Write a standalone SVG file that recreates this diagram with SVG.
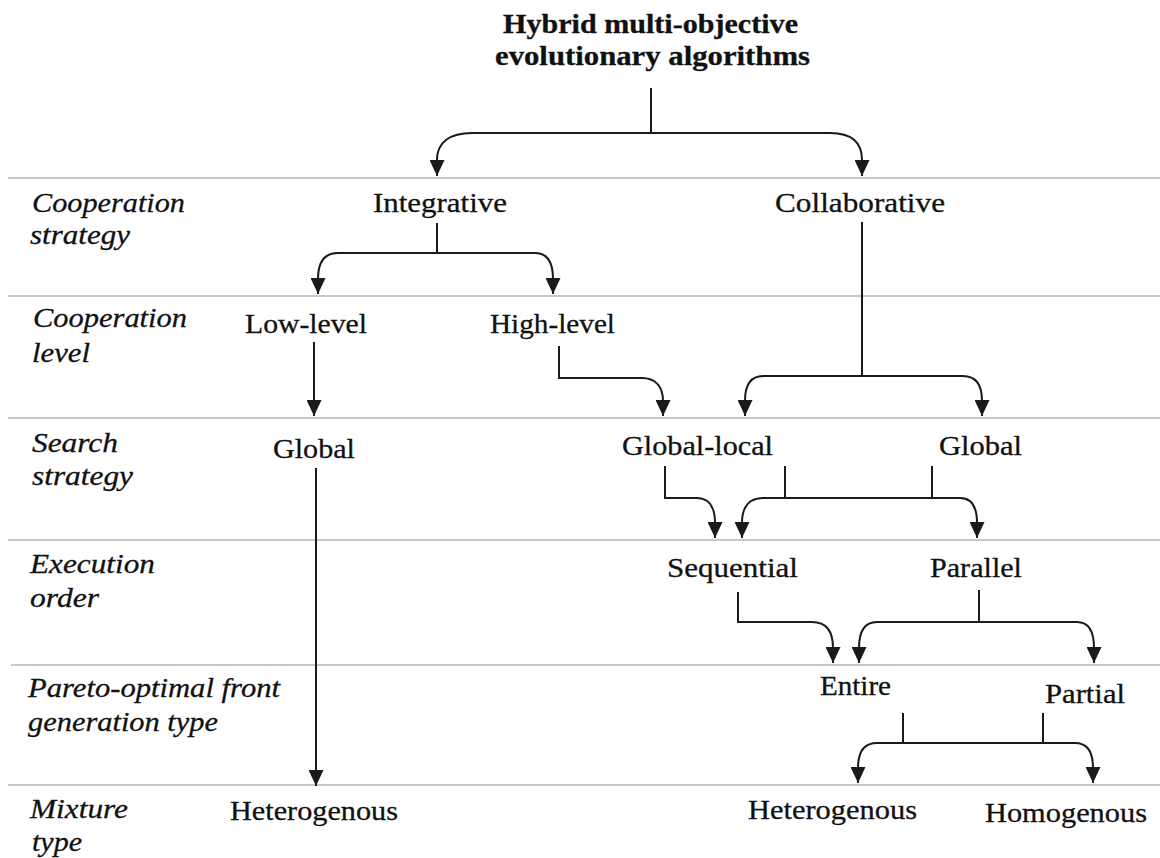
<svg xmlns="http://www.w3.org/2000/svg" width="1160" height="858" viewBox="0 0 1160 858">
<style>
.bg{fill:#ffffff}
.rule{stroke:#c8c8c8;stroke-width:2;fill:none}
.t{font-family:"Liberation Serif","DejaVu Serif",serif;font-size:28px;fill:#111;stroke:#111;stroke-width:0.3}
.title{font-weight:bold}
.lab{font-style:italic}
.c{stroke:#1a1a1a;stroke-width:2;fill:none;marker-end:url(#ah)}
.p{stroke:#1a1a1a;stroke-width:2;fill:none}
</style>
<defs>
<marker id="ah" markerUnits="userSpaceOnUse" markerWidth="16" markerHeight="15" viewBox="0 0 16 15" refX="16" refY="7.5" orient="auto">
<path d="M0,0 L16,7.5 L0,15 z" fill="#1a1a1a"/>
</marker>
</defs>
<rect class="bg" x="0" y="0" width="1160" height="858"/>
<g id="rules">
<line class="rule" x1="8" y1="178" x2="1160" y2="178"/>
<line class="rule" x1="8" y1="296" x2="1160" y2="296"/>
<line class="rule" x1="8" y1="418" x2="1160" y2="418"/>
<line class="rule" x1="8" y1="540" x2="1160" y2="540"/>
<line class="rule" x1="11" y1="665" x2="1160" y2="665"/>
<line class="rule" x1="8" y1="785" x2="1160" y2="785"/>
</g>
<g id="row-labels">
<text class="t lab" x="32" y="212" textLength="153" lengthAdjust="spacingAndGlyphs">Cooperation</text>
<text class="t lab" x="30" y="244" textLength="100" lengthAdjust="spacingAndGlyphs">strategy</text>
<text class="t lab" x="33" y="327" textLength="154" lengthAdjust="spacingAndGlyphs">Cooperation</text>
<text class="t lab" x="32" y="362" textLength="58" lengthAdjust="spacingAndGlyphs">level</text>
<text class="t lab" x="32" y="452" textLength="86" lengthAdjust="spacingAndGlyphs">Search</text>
<text class="t lab" x="32" y="485" textLength="101" lengthAdjust="spacingAndGlyphs">strategy</text>
<text class="t lab" x="30" y="573" textLength="125" lengthAdjust="spacingAndGlyphs">Execution</text>
<text class="t lab" x="30" y="607" textLength="69" lengthAdjust="spacingAndGlyphs">order</text>
<text class="t lab" x="28" y="697" textLength="252" lengthAdjust="spacingAndGlyphs">Pareto-optimal front</text>
<text class="t lab" x="28" y="731" textLength="190" lengthAdjust="spacingAndGlyphs">generation type</text>
<text class="t lab" x="30" y="818" textLength="98" lengthAdjust="spacingAndGlyphs">Mixture</text>
<text class="t lab" x="32" y="851" textLength="50" lengthAdjust="spacingAndGlyphs">type</text>
</g>
<g id="connectors">
<path class="p" d="M651 88 L651 133 M472 133 L830 133"/>
<path class="c" d="M472 133 C450 133 437 142 437 160 L437 176"/>
<path class="c" d="M830 133 C852 133 862 142 862 160 L862 176"/>
<path class="p" d="M437 223 L437 253 M338 253 L535 253"/>
<path class="c" d="M338 253 C325 253 318 261 318 279 L318 294"/>
<path class="c" d="M535 253 C547 253 553 261 553 279 L553 294"/>
<path class="c" d="M314 342 L314 416"/>
<path class="c" d="M559 346 L559 378 L642 378 C655 378 663 386 663 401 L663 416"/>
<path class="p" d="M862 222 L862 376 M763 376 L963 376"/>
<path class="c" d="M763 376 C751 376 745 384 745 401 L745 416"/>
<path class="c" d="M963 376 C975 376 982 384 982 401 L982 416"/>
<path class="c" d="M665 466 L665 498 L697 498 C708 498 715 506 715 523 L715 538"/>
<path class="p" d="M785 466 L785 498 M932 466 L932 498 M763 498 L960 498"/>
<path class="c" d="M763 498 C750 498 742 506 742 523 L742 538"/>
<path class="c" d="M960 498 C971 498 977 506 977 523 L977 538"/>
<path class="c" d="M738 592 L738 622 L812 622 C825 622 833 630 833 648 L833 663"/>
<path class="p" d="M979 590 L979 622 M877 622 L1077 622"/>
<path class="c" d="M877 622 C866 622 859 630 859 648 L859 663"/>
<path class="c" d="M1077 622 C1088 622 1094 630 1094 648 L1094 663"/>
<path class="p" d="M903 713 L903 743 M1043 713 L1043 743 M877 743 L1075 743"/>
<path class="c" d="M877 743 C865 743 858 751 858 768 L858 783"/>
<path class="c" d="M1075 743 C1087 743 1093 751 1093 768 L1093 783"/>
<path class="c" d="M316 468 L316 786"/>
</g>
<g id="root">
<text class="t title" x="503" y="33" textLength="295" lengthAdjust="spacingAndGlyphs">Hybrid multi-objective</text>
<text class="t title" x="495" y="65" textLength="315" lengthAdjust="spacingAndGlyphs">evolutionary algorithms</text>
</g>
<g id="integrative"><text class="t" x="373" y="212" textLength="134" lengthAdjust="spacingAndGlyphs">Integrative</text></g>
<g id="collaborative"><text class="t" x="775" y="212" textLength="170" lengthAdjust="spacingAndGlyphs">Collaborative</text></g>
<g id="low-level"><text class="t" x="245" y="333" textLength="122" lengthAdjust="spacingAndGlyphs">Low-level</text></g>
<g id="high-level"><text class="t" x="490" y="333" textLength="125" lengthAdjust="spacingAndGlyphs">High-level</text></g>
<g id="global-left"><text class="t" x="273" y="458" textLength="82" lengthAdjust="spacingAndGlyphs">Global</text></g>
<g id="global-local"><text class="t" x="622" y="455" textLength="151" lengthAdjust="spacingAndGlyphs">Global-local</text></g>
<g id="global-right"><text class="t" x="939" y="455" textLength="83" lengthAdjust="spacingAndGlyphs">Global</text></g>
<g id="sequential"><text class="t" x="667" y="577" textLength="131" lengthAdjust="spacingAndGlyphs">Sequential</text></g>
<g id="parallel"><text class="t" x="930" y="577" textLength="92" lengthAdjust="spacingAndGlyphs">Parallel</text></g>
<g id="entire"><text class="t" x="820" y="695" textLength="71" lengthAdjust="spacingAndGlyphs">Entire</text></g>
<g id="partial"><text class="t" x="1045" y="703" textLength="80" lengthAdjust="spacingAndGlyphs">Partial</text></g>
<g id="heterogenous-left"><text class="t" x="230" y="820" textLength="168" lengthAdjust="spacingAndGlyphs">Heterogenous</text></g>
<g id="heterogenous-right"><text class="t" x="748" y="819" textLength="169" lengthAdjust="spacingAndGlyphs">Heterogenous</text></g>
<g id="homogenous"><text class="t" x="985" y="822" textLength="162" lengthAdjust="spacingAndGlyphs">Homogenous</text></g>
</svg>
